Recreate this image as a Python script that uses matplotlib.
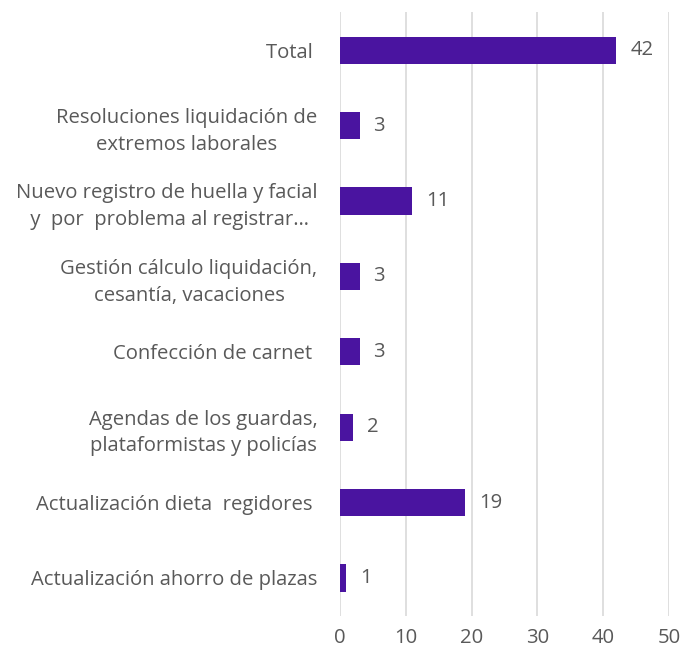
import matplotlib.pyplot as plt
import numpy as np

plt.rcParams['font.family'] = ['Open Sans', 'DejaVu Sans']

categories = [
    'Total ',
    'Resoluciones liquidación de\nextremos laborales',
    'Nuevo registro de huella y facial\n y  por  problema al registrar…',
    'Gestión cálculo liquidación,\ncesantía, vacaciones',
    'Confección de carnet ',
    'Agendas de los guardas,\nplataformistas y policías',
    'Actualización dieta  regidores ',
    'Actualización ahorro de plazas',
]
values = [42, 3, 11, 3, 3, 2, 19, 1]
xticks = [0, 10, 20, 30, 40, 50]

bar_color = '#4a14a0'
text_color = '#595959'
fs = 14.6

fig = plt.figure(figsize=(6.92, 6.55), dpi=100)
ax = fig.add_axes([0.491, 0.060, 0.476, 0.921])

y = np.arange(len(categories))
ax.barh(y, values, height=0.36, color=bar_color, zorder=3)
ax.set_ylim(len(categories) - 0.5, -0.5)
ax.set_xlim(0, 50)

for yi, v in zip(y, values):
    ax.annotate(str(v), (v, yi), xytext=(10, 0), textcoords='offset points',
                ha='left', va='center', fontsize=fs, color=text_color)

ax.set_yticks(y)
ax.set_yticklabels(categories, multialignment='center', fontsize=fs,
                   color=text_color, linespacing=1.45)
ax.set_xticks(xticks)
ax.set_xticklabels([str(t) for t in xticks], fontsize=fs, color=text_color)

ax.grid(axis='x', color='#d9d9d9', linewidth=1.2, zorder=0)
ax.tick_params(axis='both', length=0)
ax.tick_params(axis='y', pad=16)
ax.tick_params(axis='x', pad=9)
for s in ax.spines.values():
    s.set_visible(False)

fig.savefig('out.png', dpi=100)
